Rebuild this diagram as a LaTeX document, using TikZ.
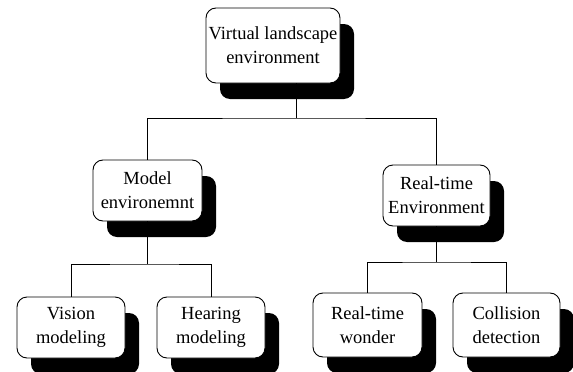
\documentclass[tikz,border=0pt]{standalone}
\usepackage{fontspec}
\setmainfont{Liberation Serif}
\usepackage{tikz}
\usetikzlibrary{shadows,positioning}
\tikzstyle{unit}=[rectangle,rounded corners=10pt,fill=white,draw=black,line width=0.9pt,align=center,inner sep=0pt,
  font=\fontsize{18.5}{24}\selectfont,
  drop shadow={shadow xshift=14pt,shadow yshift=-16pt,fill=black,opacity=1}]
\tikzstyle{link}=[draw=black,line width=1pt]
\begin{document}
\begin{tikzpicture}[x=1pt,y=-1pt]
                \useasboundingbox (0,0) rectangle (573,372);

                \node[unit,minimum width=134pt,minimum height=75pt] (vle) at (273,45.5) {Virtual landscape\\environment};

                \node[unit,minimum width=109pt,minimum height=61pt] (model) at (147.5,190.5) {Model\\environemnt};
                \node[unit,minimum width=107pt,minimum height=61pt] (realenv) at (436.5,195.5) {Real-time\\Environment};

                \node[unit,minimum width=108pt,minimum height=61pt] (vision) at (71,327.5) {Vision\\modeling};
                \node[unit,minimum width=108pt,minimum height=61pt] (hearing) at (211,327.5) {Hearing\\modeling};
                \node[unit,minimum width=109pt,minimum height=64pt] (wonder) at (367.5,325) {Real-time\\wonder};
                \node[unit,minimum width=107pt,minimum height=64pt] (collision) at (506.5,325) {Collision\\detection};

                \coordinate (topjoin) at (296,118);
                \coordinate (leftjoin) at (147.5,264);
                \coordinate (rightjoin) at (436.5,262);

                \draw[link] (vle.south -| topjoin) -- (topjoin);
                \draw[link] (model.north) |- (topjoin) -| (realenv.north);

                \draw[link] (model.south) -- (leftjoin);
                \draw[link] (vision.north) |- (leftjoin) -| (hearing.north);

                \draw[link] (realenv.south) -- (rightjoin);
                \draw[link] (wonder.north) |- (rightjoin) -| (collision.north);
\end{tikzpicture}
\end{document}
